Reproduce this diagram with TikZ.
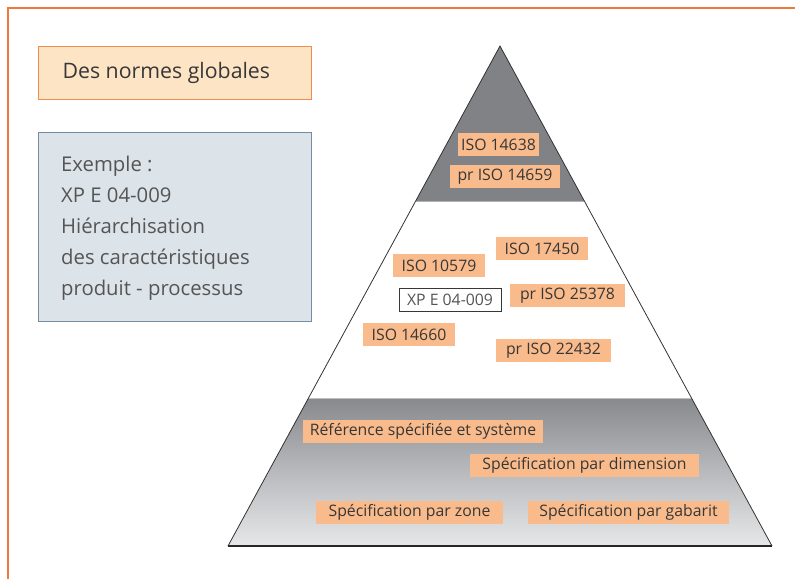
\documentclass[tikz,border=0pt]{standalone}
\usepackage{fontspec}
\setmainfont{Open Sans}
\definecolor{frameor}{RGB}{240,120,60}
\definecolor{titlefill}{RGB}{253,228,196}
\definecolor{titledraw}{RGB}{240,140,80}
\definecolor{exfill}{RGB}{220,227,233}
\definecolor{exdraw}{RGB}{120,140,160}
\definecolor{salmon}{RGB}{249,187,140}
\definecolor{topgray}{RGB}{128,130,133}
\definecolor{bandtop}{RGB}{136,137,141}
\definecolor{bandbot}{RGB}{230,231,232}
\definecolor{txt}{RGB}{55,55,55}
\definecolor{extxt}{RGB}{85,85,85}
\tikzset{
  lbl/.style={fill=salmon, inner sep=0pt, text=txt, font=\fontsize{15.8}{18}\selectfont},
  xpbox/.style={fill=white, draw=txt, line width=0.8pt, inner sep=0pt, text=extxt, font=\fontsize{15.8}{18}\selectfont},
}
\begin{document}
\begin{tikzpicture}[x=1pt,y=-1pt]
\useasboundingbox (0,0) rectangle (795,579);
% frame
\draw[frameor, line width=1.2pt] (8,579) -- (8,8) -- (795,8);
% title box
\node[draw=titledraw, fill=titlefill, line width=0.8pt, minimum width=273pt, minimum height=53pt, inner sep=0pt, anchor=north west] (title) at (38,46) {};
\node[anchor=west, text=txt, font=\fontsize{21.3}{24}\selectfont] (titletxt) at (59,73) {Des normes globales};
% example box
\node[draw=exdraw, fill=exfill, line width=0.8pt, minimum width=273pt, minimum height=189pt, inner sep=0pt, anchor=north west] (ex) at (38,132) {};
\node[anchor=north west, text=extxt, align=left, font=\fontsize{20.3}{31}\selectfont, inner sep=0pt] (extxt) at (61,156) {Exemple :\\XP E 04-009\\Hiérarchisation\\des caractéristiques\\produit - processus};
% pyramid
\coordinate (apex) at (500,46);
\coordinate (bl) at (228,546);
\coordinate (br) at (772,546);
\coordinate (t1l) at (415.7,201);
\coordinate (t1r) at (584.3,201);
\coordinate (t2l) at (308.4,398);
\coordinate (t2r) at (691.6,398);
\fill[topgray] (apex) -- (t1r) -- (t1l) -- cycle;
\fill[white] (t1l) -- (t1r) -- (t2r) -- (t2l) -- cycle;
\shade[top color=bandtop, bottom color=bandbot, middle color={rgb,255:red,185;green,186;blue,189}] (t2l) -- (t2r) -- (br) -- (bl) -- cycle;
\draw[gray!60, line width=1pt] (t1l) -- (t1r);
\draw[gray!50, line width=1pt] (t2l) -- (t2r);
\draw[black!80, line width=0.8pt] (bl) -- (apex) -- (br);
\draw[black!85, line width=1.2pt] (bl) -- (br);
% labels
\node[lbl, minimum width=81pt, minimum height=23pt] (a1) at (498.5,144.5) {ISO 14638};
\node[lbl, minimum width=110pt, minimum height=23pt] (a2) at (505,176.5) {pr ISO 14659};
\node[lbl, minimum width=92pt, minimum height=23pt] (b1) at (542,248.5) {ISO 17450};
\node[lbl, minimum width=92pt, minimum height=23pt] (b2) at (439,265.5) {ISO 10579};
\node[xpbox, minimum width=102pt, minimum height=23pt] (b3) at (450,299.5) {XP E 04-009};
\node[lbl, minimum width=115pt, minimum height=23pt] (b4) at (567.5,295.5) {pr ISO 25378};
\node[lbl, minimum width=92pt, minimum height=23pt] (b5) at (409,334.5) {ISO 14660};
\node[lbl, minimum width=115pt, minimum height=23pt] (b6) at (553.5,350.5) {pr ISO 22432};
\node[lbl, minimum width=240pt, minimum height=23pt] (c1) at (423,431.5) {Référence spécifiée et système};
\node[lbl, minimum width=229pt, minimum height=23pt] (c2) at (584.5,465.5) {Spécification par dimension};
\node[lbl, minimum width=187pt, minimum height=23pt] (c3) at (409.5,512.5) {Spécification par zone};
\node[lbl, minimum width=201pt, minimum height=23pt] (c4) at (628.5,512.5) {Spécification par gabarit};
\end{tikzpicture}
\end{document}
